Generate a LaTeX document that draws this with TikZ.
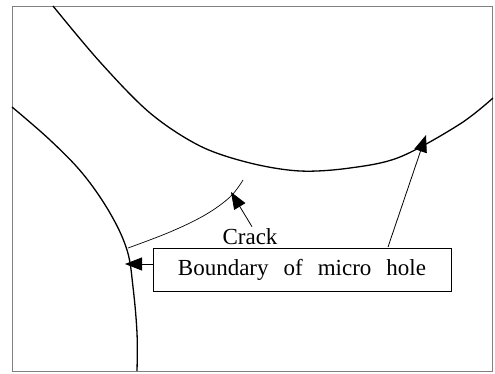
\documentclass[tikz,border=0pt]{standalone}
\usepackage{fontspec}
\setmainfont{Liberation Serif}
\usetikzlibrary{arrows.meta}
\begin{document}
\begin{tikzpicture}[x=1pt,y=-1pt,
  holeline/.style={line width=1.3pt},
  crackline/.style={line width=0.7pt},
  pointer/.style={line width=0.8pt,-{Triangle[length=17pt,width=13pt]}},
  labeltext/.style={font=\fontsize{23}{25}\selectfont,inner sep=0pt},
  labelbox/.style={draw,line width=0.8pt,minimum width=298pt,minimum height=43pt,font=\fontsize{23}{25}\selectfont,inner sep=0pt}]
\useasboundingbox (0,0) rectangle (495,374);
\draw[gray,line width=0.5pt] (12,6) rectangle (492,371);
% upper hole boundary
\draw[holeline] plot[smooth,tension=0.55] coordinates {(53,6) (100,62) (150,113) (200,146) (250,163) (300,171) (350,168) (400,157) (460,124) (493,98)};
% left hole boundary
\draw[holeline] plot[smooth,tension=0.6] coordinates {(12,107) (50,140) (83,174) (110,213) (127,250) (133,287) (137,333) (137,371)};
% crack
\draw[crackline] plot[smooth,tension=0.6] coordinates {(128,248) (170,232) (205,215) (230,197) (243,180)};
% labels
\node[labelbox] (box) at (302,269.5) {Boundary\hspace{15pt}of\hspace{15pt}micro\hspace{15pt}hole\hspace{8pt}};
\node[labeltext] (crack) at (250,237) {Crack};
\coordinate (cracktip) at (231,192);
\coordinate (lefttip) at (125,264);
\coordinate (righttip) at (426,135);
\coordinate (righttail) at (388,247);
\draw[pointer] (crack.north) ++(2,-2) -- (cracktip);
\draw[pointer] (box.west |- lefttip) -- (lefttip);
\draw[pointer] (righttail) -- (righttip);
\end{tikzpicture}
\end{document}
